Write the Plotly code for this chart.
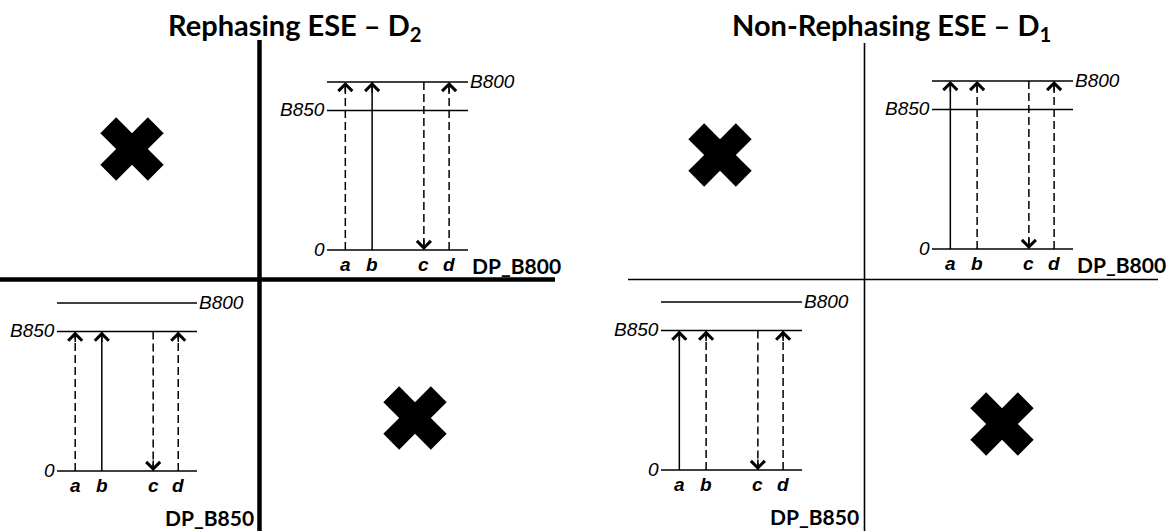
import plotly.graph_objects as go

W, H = 1169, 531

# Energy levels (relative heights above the ground state)
level_names = ["0", "B850", "B800"]
level_heights = [0.0, 0.83, 1.0]

# Pulse interactions along each double-sided diagram
pulse_labels = ["a", "b", "c", "d"]
pulse_pos = [0.13, 0.32, 0.687, 0.866]
pulse_dir = ["up", "up", "down", "up"]

# Line style of each interaction: rephasing vs non-rephasing pathways
rephasing_styles = ["dash", "solid", "dash", "dash"]
nonrephasing_styles = ["solid", "dash", "dash", "dash"]

# Panels and their pathways
panel_titles = ["Rephasing ESE – D<sub>2</sub>", "Non-Rephasing ESE – D<sub>1</sub>"]
pathway_names = ["DP_B800", "DP_B850", "DP_B800", "DP_B850"]
pathway_target = ["B800", "B850", "B800", "B850"]
pathway_styles = [rephasing_styles, rephasing_styles, nonrephasing_styles, nonrephasing_styles]

# Placement of each diagram on the page: left, right, ground y, B800 y (pixels)
placement = [
    (327, 468, 250, 82),
    (57, 197, 471, 303),
    (932, 1073, 249, 81),
    (661, 802, 470, 302),
]
# Quadrants with forbidden pathways (crossed out), page pixels
cross_x = [132, 415, 720, 1002]
cross_y = [149, 418, 155, 424]

PAD = 0.1
level_font = dict(family="Liberation Sans", size=19, color="black")
pulse_font = dict(family="Liberation Sans", size=19, color="black")
dp_font = dict(family="Lato", size=21, color="black")
title_font = dict(family="Lato", size=29, color="black")

fig = go.Figure()
annotations = []
layout_axes = {}

for i, (left, right, gy, ty) in enumerate(placement):
    n = i + 2
    xa, ya = f"x{n}", f"y{n}"
    ux = right - left
    uy = gy - ty
    layout_axes[f"xaxis{n}"] = dict(
        domain=[(left - PAD * ux) / W, (right + PAD * ux) / W],
        range=[-PAD, 1 + PAD], visible=False, anchor=ya, fixedrange=True)
    layout_axes[f"yaxis{n}"] = dict(
        domain=[1 - (gy + PAD * uy) / H, 1 - (ty - PAD * uy) / H],
        range=[-PAD, 1 + PAD], visible=False, anchor=xa, fixedrange=True)

    # energy levels
    for name, h in zip(level_names, level_heights):
        fig.add_trace(go.Scatter(x=[0, 1], y=[h, h], xaxis=xa, yaxis=ya, mode="lines",
                                 line=dict(color="black", width=1.6), hoverinfo="skip"))
    lv = dict(zip(level_names, level_heights))
    annotations.append(dict(x=1, y=lv["B800"], xref=xa, yref=ya, text="<i>B800</i>",
                            showarrow=False, xanchor="left", yanchor="middle",
                            xshift=0, yshift=1, font=level_font))
    annotations.append(dict(x=0, y=lv["B850"], xref=xa, yref=ya, text="<i>B850</i>",
                            showarrow=False, xanchor="right", yanchor="middle",
                            xshift=0, yshift=1, font=level_font))
    annotations.append(dict(x=0, y=lv["0"], xref=xa, yref=ya, text="<i>0</i>",
                            showarrow=False, xanchor="right", yanchor="middle",
                            xshift=0, yshift=1, font=level_font))

    # interactions
    top = lv[pathway_target[i]]
    for lab, p, d, st in zip(pulse_labels, pulse_pos, pulse_dir, pathway_styles[i]):
        ys = [0, top] if d == "up" else [top, 0]
        fig.add_trace(go.Scatter(x=[p, p], y=ys, xaxis=xa, yaxis=ya, mode="lines",
                                 line=dict(color="black", width=1.5,
                                           dash="solid" if st == "solid" else "8px,4px"),
                                 hoverinfo="skip"))
        annotations.append(dict(x=p, y=ys[1], xref=xa, yref=ya, text="", showarrow=True,
                                ax=0, ay=12 if d == "up" else -12,
                                arrowhead=4, arrowsize=1.8, arrowwidth=1.5,
                                arrowcolor="black", standoff=0))
        annotations.append(dict(x=p, y=0, xref=xa, yref=ya, text=f"<b><i>{lab}</i></b>",
                                showarrow=False, xanchor="center", yanchor="top",
                                yshift=-2, font=pulse_font))

    # pathway name
    if pathway_target[i] == "B800":
        annotations.append(dict(x=1, y=0, xref=xa, yref=ya, text=f"<b>{pathway_names[i]}</b>",
                                showarrow=False, xanchor="left", yanchor="top",
                                xshift=2, yshift=-1, font=dp_font))
    else:
        annotations.append(dict(x=1, y=0, xref=xa, yref=ya, text=f"<b>{pathway_names[i]}</b>",
                                showarrow=False, xanchor="right", yanchor="middle",
                                xshift=59, yshift=-46, font=dp_font))

# crossed-out quadrants
fig.add_trace(go.Scatter(x=cross_x, y=cross_y, mode="markers", xaxis="x", yaxis="y",
                         marker=dict(symbol="x", size=56, color="black", line=dict(width=0)),
                         hoverinfo="skip"))

# panel titles
title_x = [295, 891]
for t, tx in zip(panel_titles, title_x):
    annotations.append(dict(x=tx, y=5, xref="x", yref="y", text=f"<b>{t}</b>",
                            showarrow=False, xanchor="center", yanchor="top", font=title_font))

# quadrant axes
shapes = [
    dict(type="line", xref="x", yref="y", x0=259.5, x1=259.5, y0=40, y1=H,
         line=dict(color="black", width=4.5)),
    dict(type="line", xref="x", yref="y", x0=0, x1=555, y0=279.5, y1=279.5,
         line=dict(color="black", width=4.5)),
    dict(type="line", xref="x", yref="y", x0=864.5, x1=864.5, y0=43, y1=H,
         line=dict(color="black", width=1.6)),
    dict(type="line", xref="x", yref="y", x0=628, x1=1158, y0=279.5, y1=279.5,
         line=dict(color="black", width=1.6)),
]

fig.update_layout(
    width=W, height=H, margin=dict(l=0, r=0, t=0, b=0),
    paper_bgcolor="white", plot_bgcolor="white", showlegend=False,
    xaxis=dict(range=[0, W], visible=False, domain=[0, 1], fixedrange=True),
    yaxis=dict(range=[H, 0], visible=False, domain=[0, 1], fixedrange=True),
    annotations=annotations, shapes=shapes, **layout_axes,
)

fig.write_html("out.html")
